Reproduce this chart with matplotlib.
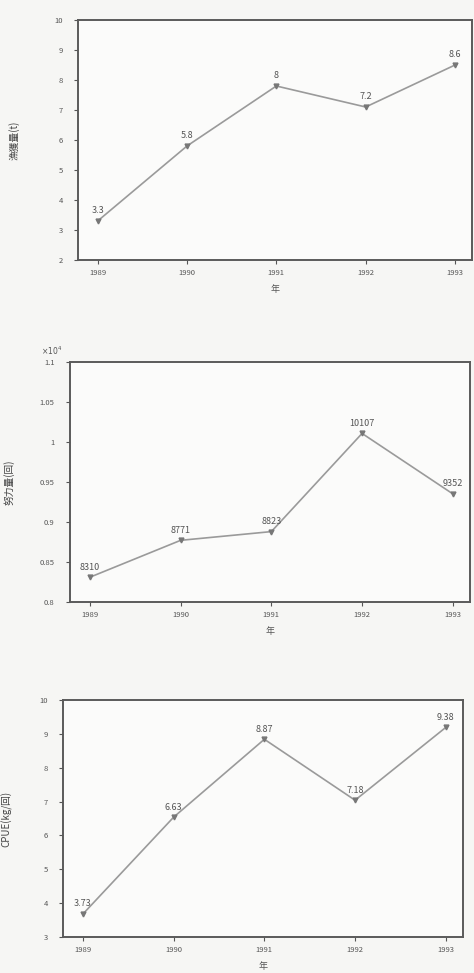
import numpy as np
import matplotlib.pyplot as plt
from matplotlib.ticker import FuncFormatter

plt.rcParams['font.family'] = ['Noto Sans CJK JP', 'DejaVu Sans']

# データ
years = ['1989', '1990', '1991', '1992', '1993']
catch = [3.3, 5.8, 7.8, 7.1, 8.5]            # 漁獲量(t)
catch_lbl = ['3.3', '5.8', '8', '7.2', '8.6']
effort = [8310, 8771, 8880, 10107, 9352]     # 努力量(回)
effort_lbl = ['8310', '8771', '8823', '10107', '9352']
cpue = [3.68, 6.54, 8.84, 7.04, 9.19]        # CPUE(kg/回)
cpue_lbl = ['3.73', '6.63', '8.87', '7.18', '9.38']

W, H = 474, 973
fig = plt.figure(figsize=(W / 100, H / 100), dpi=100)
fig.patch.set_facecolor('#f6f6f4')

line_c = '#9a9a9a'
frame_c = '#5a5a5a'
text_c = '#555555'

def panel(box, y, lbls, ylabel, ylim, yticks, label_x):
    l, t, r, b = box
    ax = fig.add_axes([l / W, 1 - b / H, (r - l) / W, (b - t) / H])
    ax.set_facecolor('#fbfbfa')
    x = np.arange(len(years))
    ax.plot(x, y, color=line_c, lw=1.2, marker='v', ms=3.5,
            mfc='#777777', mec='#777777')
    for xi, yi, s in zip(x, y, lbls):
        ax.annotate(s, (xi, yi), xytext=(0, 4), textcoords='offset points',
                    ha='center', va='bottom', fontsize=6.5, color=text_c)
    ax.set_xlim(-0.22, 4.19)
    ax.set_ylim(*ylim)
    ax.set_yticks(yticks)
    ax.set_xticks(x)
    ax.set_xticklabels(years)
    ax.tick_params(labelsize=5.5, colors=text_c, length=3, width=0.8)
    ax.tick_params(axis='y', pad=8)
    for sp in ax.spines.values():
        sp.set_color(frame_c)
        sp.set_linewidth(1.4)
    ax.set_xlabel('年', fontsize=6.5, color=text_c, labelpad=6)
    ax.set_ylabel(ylabel, fontsize=7, color='#444444')
    # 縦軸ラベルの位置 (図の左端からのピクセル位置)
    ax.yaxis.set_label_coords((label_x - l) / (r - l), 0.5)
    return ax

panel((78, 20, 472, 260), catch, catch_lbl, '漁獲量(t)', (2, 10),
      range(2, 11), 20)

ax2 = panel((70, 362, 470, 602), effort, effort_lbl, '努力量(回)',
            (8000, 11000), np.arange(8000, 11001, 500), 15)
ax2.yaxis.set_major_formatter(FuncFormatter(lambda v, p: f'{v / 1e4:g}'))
ax2.text(-0.02, 1.02, r'$\times10^{4}$', transform=ax2.transAxes,
         ha='right', va='bottom', fontsize=5.5, color=text_c)

panel((63, 700, 463, 937), cpue, cpue_lbl, 'CPUE(kg/回)', (3, 10),
      range(3, 11), 12)

fig.savefig('out.png', dpi=100, facecolor=fig.get_facecolor())
